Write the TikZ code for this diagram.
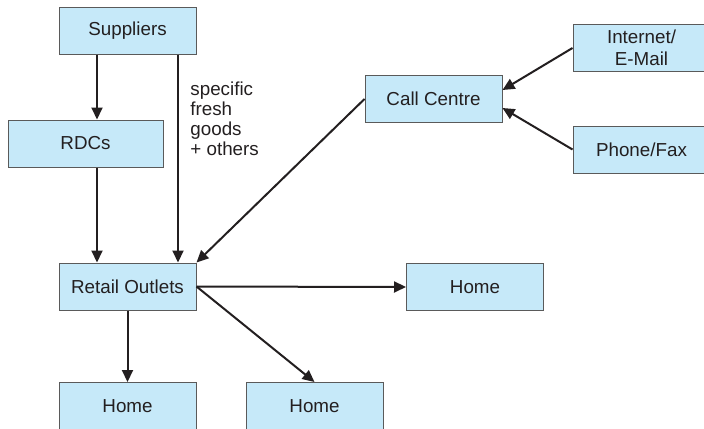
\documentclass[tikz,border=0pt]{standalone}
\usepackage{fontspec}
\setmainfont{Liberation Sans}
\usetikzlibrary{positioning,arrows.meta}
\definecolor{boxblue}{HTML}{C6E9F9}
\definecolor{boxline}{HTML}{5A5A5A}
\definecolor{inkgrey}{HTML}{231F20}

\begin{document}
\begin{tikzpicture}[x=0.5pt,y=-0.5pt,font=\fontsize{9.4}{10}\selectfont,text=inkgrey,
    >={Triangle[length=6pt,width=5.5pt]}]
  \tikzstyle{unit}=[draw=boxline,line width=0.5pt,fill=boxblue,minimum width=68.5pt,minimum height=23.5pt,inner sep=0pt,align=center]
  \tikzstyle{flow}=[->,draw=inkgrey,line width=1pt]
  \clip (0,0) rectangle (704,428);
  % upstream
  \node[unit] (sup) at (127.5,30.5) {Suppliers};
  \node[unit,minimum width=77.5pt] (rdc) at (85.5,143.5) {RDCs};
  \node[unit] (ret) at (127.5,286.5) {Retail Outlets};
  % ordering channels
  \node[unit] (cc) at (433.5,99) {Call Centre};
  \node[unit,font=\fontsize{9.4}{11}\selectfont] (web) at (641.5,48) {Internet/\\E-Mail};
  \node[unit] (fax) at (641.5,149.5) {Phone/Fax};
  % deliveries
  \node[unit] (homeR) at (475,287) {Home};
  \node[unit] (homeL) at (127.5,406) {Home};
  \node[unit] (homeM) at (314.5,406) {Home};
  \node[anchor=west,align=left,inner sep=0pt] (fresh) at (190,118.5) {specific\\fresh\\goods\\+ others};
  \coordinate (laneA) at (97,0);
  \coordinate (laneB) at (178,0);
  \draw[flow] (laneA |- sup.south) -- (laneA |- rdc.north);
  \draw[flow] (laneA |- rdc.south) -- (laneA |- ret.north);
  \draw[flow] (laneB |- sup.south) -- (laneB |- ret.north);
  \draw[flow] (web.west) -- ([yshift=4.5pt]cc.east);
  \draw[flow] (fax.west) -- ([yshift=-4.5pt]cc.east);
  \draw[flow] (cc.west) -- (ret.north east);
  \draw[flow] (ret.east) -- (homeR.west);
  \draw[flow] (ret.east) -- (homeM.north);
  \draw[flow] (ret.south) -- (homeL.north);
\end{tikzpicture}
\end{document}
